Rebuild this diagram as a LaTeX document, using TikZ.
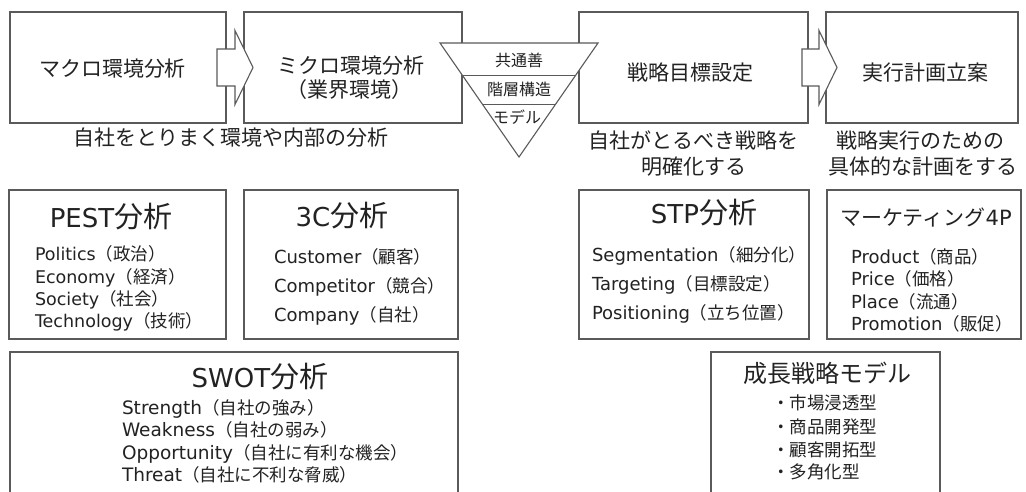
\documentclass[tikz,border=0pt]{standalone}
\usepackage{fontspec}
\setmainfont{DejaVu Sans}
\newfontfamily\jpf{Noto Sans CJK JP}
\newcommand\J[2]{{\jpf\fontsize{#1}{#1}\selectfont #2}}
\usetikzlibrary{calc}
\definecolor{linec}{HTML}{5A5A5A}
\definecolor{txtc}{HTML}{222222}
\tikzset{
  box/.style={draw=linec, line width=1.1pt, inner sep=0pt, outer sep=0pt},
  txt/.style={text=txtc, inner sep=0pt, outer sep=0pt, anchor=base},
  item/.style={text=txtc, inner sep=0pt, outer sep=0pt, anchor=base west, font=\fontsize{17.5}{20}\selectfont},
  itemb/.style={item, font=\fontsize{18}{20}\selectfont},
  itemc/.style={item, font=\fontsize{18.5}{20}\selectfont},
  blockarrow/.style={draw=linec, line width=1.1pt, fill=white, line join=miter},
}
\begin{document}
\begin{tikzpicture}[x=1pt,y=-1pt]
\useasboundingbox[fill=white] (0,0) rectangle (1026,491);
\clip (0,0) rectangle (1026,491);
% top boxes
\node[box, minimum width=216pt, minimum height=111pt] (b1) at (118,67.5) {};
\node[box, minimum width=218pt, minimum height=111pt] (b2) at (353,67.5) {};
\node[box, minimum width=229pt, minimum height=111pt] (b3) at (693.5,67.5) {};
\node[box, minimum width=192pt, minimum height=111pt] (b4) at (922,67.5) {};
% block arrows
\begin{scope}[shift={(b1.east)}]
  \draw[blockarrow] (-9,-18.5) -- (9,-18.5) -- (9,-37) -- (27,0) -- (9,37) -- (9,18.5) -- (-9,18.5) -- cycle;
\end{scope}
\begin{scope}[shift={(b3.east)}]
  \draw[blockarrow] (-6,-18.5) -- (11,-18.5) -- (11,-37) -- (29,0) -- (11,37) -- (11,18.5) -- (-6,18.5) -- cycle;
\end{scope}
% inverted triangle
\coordinate (tl) at (440,43);
\coordinate (tr) at (598,43);
\coordinate (tb) at (519,157);
\fill[white] (tl) -- (tr) -- (tb) -- cycle;
\begin{scope}
  \clip (tl) -- (tr) -- (tb) -- cycle;
  \draw[linec, line width=1pt] (430,75) -- (610,75);
  \draw[linec, line width=1pt] (430,104) -- (610,104);
\end{scope}
\draw[linec, line width=1.1pt, line join=miter] (tl) -- (tr) -- (tb) -- cycle;
\node[txt] (tr1) at (519,66) {\J{16}{共通善}};
\node[txt] (tr2) at (519,95) {\J{16}{階層構造}};
\node[txt] (tr3) at (517,123) {\J{16}{モデル}};
% top labels
\node[txt] (l1) at (112.5,76) {\J{21}{マクロ環境分析}};
\node[txt] (l2a) at (351,73) {\J{21}{ミクロ環境分析}};
\node[txt] (l2b) at (349,97) {\J{21}{（業界環境）}};
\node[txt] (l3) at (690,80) {\J{21}{戦略目標設定}};
\node[txt] (l4) at (925,80) {\J{21}{実行計画立案}};
% captions
\node[txt] (c1) at (231,145) {\J{21}{自社をとりまく環境や内部の分析}};
\node[txt] (c2a) at (693,148) {\J{21}{自社がとるべき戦略を}};
\node[txt] (c2b) at (694,174) {\J{21}{明確化する}};
\node[txt] (c3a) at (920,148) {\J{21}{戦略実行のための}};
\node[txt] (c3b) at (923,174) {\J{21}{具体的な計画をする}};
% bottom boxes
\node[box, minimum width=217pt, minimum height=149pt] (pest) at (117.5,264.5) {};
\node[box, minimum width=214pt, minimum height=149pt] (c3box) at (351,264.5) {};
\node[box, minimum width=448pt, minimum height=148pt] (swot) at (234,426) {};
\node[box, minimum width=230pt, minimum height=149pt] (stp) at (694,264.5) {};
\node[box, minimum width=194pt, minimum height=149pt] (p4) at (924,264.5) {};
\node[box, minimum width=229pt, minimum height=148pt] (grow) at (825.5,426) {};
% PEST
\node[txt] (pestT) at (111,227) {\fontsize{26}{30}\selectfont PEST\J{29}{分析}};
\node[item] (pe1) at (35,260.5) {Politics\J{17.5}{（政治）}};
\node[item] (pe2) at (35,283) {Economy\J{17.5}{（経済）}};
\node[item] (pe3) at (35,305) {Society\J{17.5}{（社会）}};
\node[item] (pe4) at (35,327.5) {Technology\J{17.5}{（技術）}};
% 3C
\node[txt] (c3T) at (342,226) {\fontsize{26}{30}\selectfont 3C\J{29}{分析}};
\node[itemb] (cc1) at (274,263.5) {Customer\J{17.5}{（顧客）}};
\node[itemb] (cc2) at (274,292.5) {Competitor\J{17.5}{（競合）}};
\node[itemb] (cc3) at (274,321.5) {Company\J{17.5}{（自社）}};
% SWOT
\node[txt] (swT) at (260,387) {\fontsize{26}{30}\selectfont SWOT\J{29}{分析}};
\node[itemc] (sw1) at (122,414.5) {Strength\J{17.5}{（自社の強み）}};
\node[itemc] (sw2) at (122,436.5) {Weakness\J{17.5}{（自社の弱み）}};
\node[itemc] (sw3) at (122,459) {Opportunity\J{17.5}{（自社に有利な機会）}};
\node[itemc] (sw4) at (122,481.5) {Threat\J{17.5}{（自社に不利な脅威）}};
% STP
\node[txt] (stpT) at (704,223) {\fontsize{26}{30}\selectfont STP\J{29}{分析}};
\node[itemb] (st1) at (592,261.5) {Segmentation\J{17.5}{（細分化）}};
\node[itemb] (st2) at (592,290.5) {Targeting\J{17.5}{（目標設定）}};
\node[itemb] (st3) at (592,319.5) {Positioning\J{17.5}{（立ち位置）}};
% 4P
\node[txt] (p4T) at (926,225) {\fontsize{21}{24}\selectfont \J{21}{マーケティング}4P};
\node[itemb] (pp1) at (851,263.5) {Product\J{17.5}{（商品）}};
\node[itemb] (pp2) at (851,285.5) {Price\J{17.5}{（価格）}};
\node[itemb] (pp3) at (851,308.5) {Place\J{17.5}{（流通）}};
\node[itemb] (pp4) at (851,330.5) {Promotion\J{17.5}{（販促）}};
% growth
\node[txt] (grT) at (827,382) {\J{24}{成長戦略モデル}};
\node[item] (g1) at (772,409.5) {\J{17.5}{・市場浸透型}};
\node[item] (g2) at (772,433) {\J{17.5}{・商品開発型}};
\node[item] (g3) at (772,456) {\J{17.5}{・顧客開拓型}};
\node[item] (g4) at (772,478.5) {\J{17.5}{・多角化型}};
\end{tikzpicture}
\end{document}
